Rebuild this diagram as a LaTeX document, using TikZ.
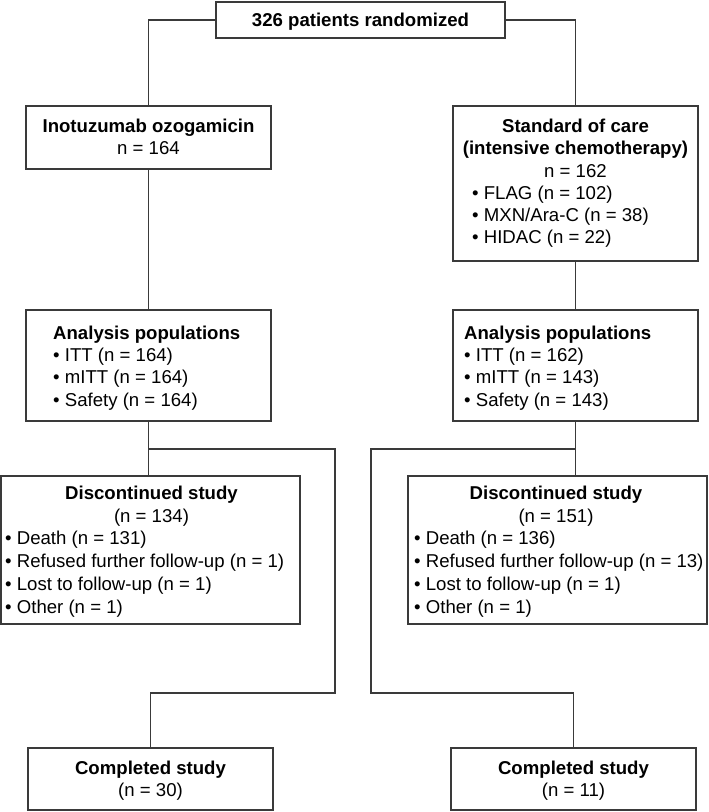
\documentclass[tikz,border=0pt]{standalone}
\usepackage{fontspec}
\setmainfont{Liberation Sans}
\definecolor{linec}{HTML}{3A3A3A}
\tikzset{
  box/.style={draw=linec, line width=1.2pt, inner sep=0pt, fill=white},
  conn/.style={draw=linec, line width=1.2pt},
  lbl/.style={inner sep=0pt, anchor=base, font=\fontsize{18.6}{23}\selectfont},
  lblb/.style={inner sep=0pt, anchor=base, font=\fontsize{18.6}{23}\selectfont\bfseries},
  item/.style={lbl, anchor=base west},
  itemb/.style={lblb, anchor=base west}
}
\begin{document}
\begin{tikzpicture}[x=1pt,y=-1pt]
\useasboundingbox (0,0) rectangle (709,812);
% boxes
\node[box, minimum width=289pt, minimum height=36pt] (top) at (360.5,20) {};
\node[box, minimum width=245pt, minimum height=63pt] (ino) at (148.5,137.5) {};
\node[box, minimum width=245pt, minimum height=155pt] (soc) at (575.5,183.5) {};
\node[box, minimum width=245pt, minimum height=111pt] (anl) at (148.5,365.5) {};
\node[box, minimum width=245pt, minimum height=111pt] (anr) at (575.5,365.5) {};
\node[box, minimum width=299pt, minimum height=148pt] (discl) at (150.4,550) {};
\node[box, minimum width=299pt, minimum height=148pt] (discr) at (557.5,550) {};
\node[box, minimum width=245pt, minimum height=62pt] (compl) at (150.5,779) {};
\node[box, minimum width=245pt, minimum height=62pt] (compr) at (573.5,779) {};
% top text
\node[lblb] (topt) at (360.5,26) {326 patients randomized};
% inotuzumab
\node[lblb] (ino1) at (148.5,132) {Inotuzumab ozogamicin};
\node[lbl] (ino2) at (148.5,154) {n = 164};
% standard of care
\node[lblb] (soc1) at (575.5,132) {Standard of care};
\node[lblb] (soc2) at (575.5,154) {(intensive chemotherapy)};
\node[lbl] (soc3) at (575.5,177) {n = 162};
\node[item] (soc4) at (472,199) {• FLAG (n = 102)};
\node[item] (soc5) at (472,221) {• MXN/Ara-C (n = 38)};
\node[item] (soc6) at (472,243) {• HIDAC (n = 22)};
% analysis left
\node[itemb] (anl1) at (53,339) {Analysis populations};
\node[item] (anl2) at (53,361) {• ITT (n = 164)};
\node[item] (anl3) at (53,383.5) {• mITT (n = 164)};
\node[item] (anl4) at (53,406) {• Safety (n = 164)};
% analysis right
\node[itemb] (anr1) at (464,339) {Analysis populations};
\node[item] (anr2) at (464,361) {• ITT (n = 162)};
\node[item] (anr3) at (464,383.5) {• mITT (n = 143)};
\node[item] (anr4) at (464,406) {• Safety (n = 143)};
% discontinued left
\node[lblb] (dl1) at (151.5,499) {Discontinued study};
\node[lbl] (dl2) at (151.5,522) {(n = 134)};
\node[item] (dl3) at (5,544.5) {• Death (n = 131)};
\node[item] (dl4) at (5,567) {• Refused further follow-up (n = 1)};
\node[item] (dl5) at (5,590) {• Lost to follow-up (n = 1)};
\node[item] (dl6) at (5,613) {• Other (n = 1)};
% discontinued right
\node[lblb] (dr1) at (556,499) {Discontinued study};
\node[lbl] (dr2) at (556,522) {(n = 151)};
\node[item] (dr3) at (414,544.5) {• Death (n = 136)};
\node[item] (dr4) at (414,567) {• Refused further follow-up (n = 13)};
\node[item] (dr5) at (414,590) {• Lost to follow-up (n = 1)};
\node[item] (dr6) at (414,613) {• Other (n = 1)};
% completed
\node[lblb] (cl1) at (150.5,774) {Completed study};
\node[lbl] (cl2) at (150.5,796) {(n = 30)};
\node[lblb] (cr1) at (573.5,774) {Completed study};
\node[lbl] (cr2) at (573.5,796) {(n = 11)};
% connectors
\coordinate (bl1) at (335,449);
\coordinate (bl2) at (335,693);
\coordinate (br1) at (371,449);
\coordinate (br2) at (371,693);
\draw[conn] (top.west) -| (ino.north);
\draw[conn] (top.east) -| (soc.north);
\draw[conn] (ino.south) -- (anl.north);
\draw[conn] (soc.south) -- (anr.north);
\draw[conn] (anl.south) -- (anl.south |- discl.north);
\draw[conn] (anr.south) -- (anr.south |- discr.north);
\draw[conn] (anl.south |- bl1) -- (bl1) -- (bl2) -| (compl.north);
\draw[conn] (anr.south |- br1) -- (br1) -- (br2) -| (compr.north);
\end{tikzpicture}
\end{document}
